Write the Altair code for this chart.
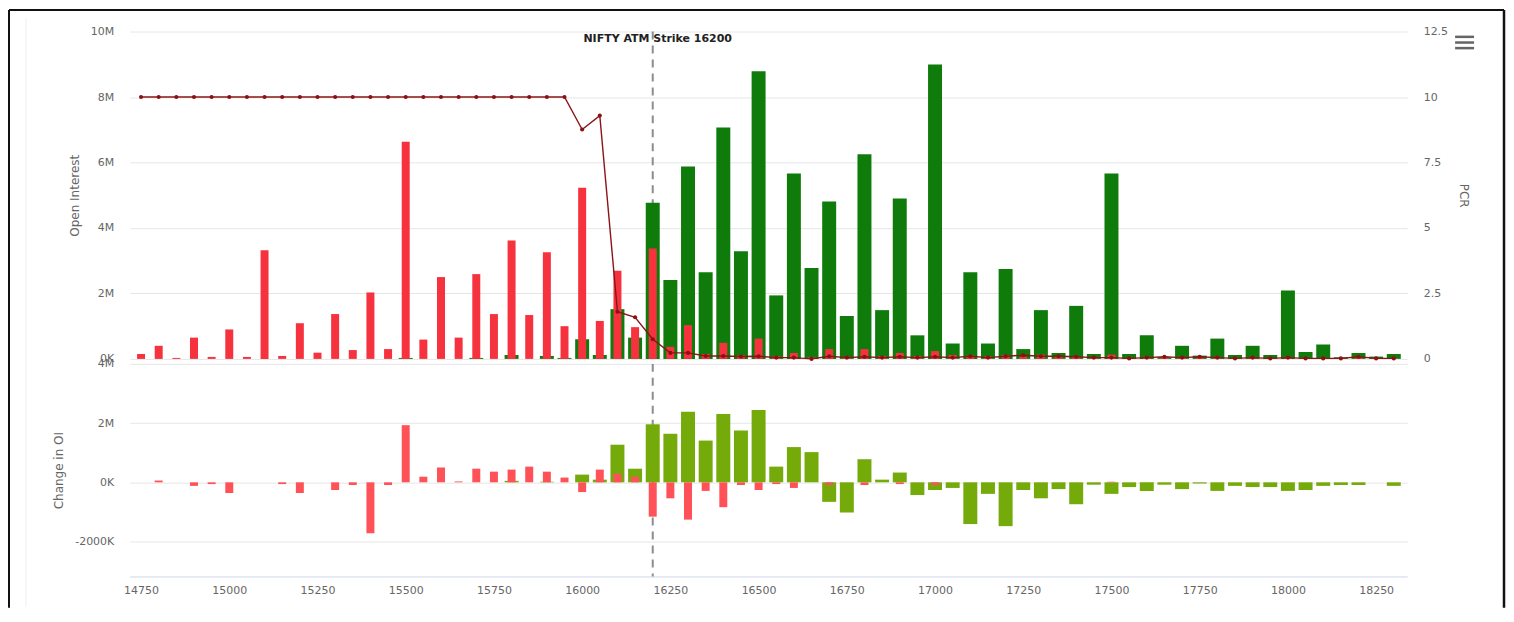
import altair as alt
import pandas as pd

# ---------------- data ----------------
strikes = list(range(14750, 18301, 50))

put_oi_m = [
    0.15, 0.40, 0.03, 0.65, 0.06, 0.90, 0.06, 3.32, 0.09, 1.09,
    0.19, 1.37, 0.27, 2.03, 0.30, 6.63, 0.59, 2.50, 0.65, 2.59,
    1.37, 3.62, 1.34, 3.26, 1.00, 5.23, 1.16, 2.69, 0.97, 3.37,
    0.37, 1.03, 0.15, 0.49, 0.11, 0.62, 0.08, 0.18, 0.05, 0.30,
    0.06, 0.30, 0.09, 0.18, 0.09, 0.24, 0.12, 0.10, 0.08, 0.12,
    0.06, 0.13, 0.05, 0.08, 0.04, 0.13, 0.03, 0.06, 0.03, 0.04,
    0.03, 0.05, 0.02, 0.04, 0.02, 0.05, 0.02, 0.03, 0.02, 0.03,
    0.02, 0.02,
]
call_oi_m = [
    0.00, 0.00, 0.00, 0.00, 0.00, 0.00, 0.00, 0.00, 0.00, 0.00,
    0.00, 0.00, 0.00, 0.00, 0.00, 0.03, 0.00, 0.00, 0.00, 0.03,
    0.00, 0.12, 0.00, 0.09, 0.03, 0.60, 0.12, 1.52, 0.65, 4.77,
    2.41, 5.88, 2.65, 7.07, 3.29, 8.79, 1.94, 5.66, 2.78, 4.81,
    1.31, 6.25, 1.49, 4.90, 0.72, 8.99, 0.47, 2.65, 0.47, 2.75,
    0.30, 1.49, 0.18, 1.62, 0.15, 5.66, 0.15, 0.72, 0.05, 0.40,
    0.10, 0.62, 0.12, 0.40, 0.12, 2.09, 0.21, 0.44, 0.05, 0.18,
    0.07, 0.15,
]
pcr = [
    10.0, 10.0, 10.0, 10.0, 10.0, 10.0, 10.0, 10.0, 10.0, 10.0,
    10.0, 10.0, 10.0, 10.0, 10.0, 10.0, 10.0, 10.0, 10.0, 10.0,
    10.0, 10.0, 10.0, 10.0, 10.0, 8.76, 9.29, 1.80, 1.59, 0.75,
    0.23, 0.23, 0.11, 0.11, 0.09, 0.10, 0.05, 0.05, 0.00, 0.10,
    0.05, 0.08, 0.05, 0.08, 0.05, 0.08, 0.05, 0.10, 0.05, 0.10,
    0.14, 0.10, 0.10, 0.08, 0.05, 0.05, 0.02, 0.05, 0.08, 0.05,
    0.08, 0.05, 0.02, 0.05, 0.02, 0.05, 0.02, 0.02, 0.02, 0.08,
    0.02, 0.02,
]
put_chg_m = [
    0.00, 0.06, 0.00, -0.12, -0.06, -0.36, 0.00, 0.00, -0.06, -0.36,
    0.00, -0.26, -0.09, -1.72, -0.09, 1.93, 0.19, 0.50, 0.03, 0.46,
    0.36, 0.43, 0.53, 0.36, 0.16, -0.33, 0.43, 0.29, 0.19, -1.16,
    -0.54, -1.26, -0.29, -0.84, -0.09, -0.26, -0.06, -0.19, 0.00, -0.09,
    0.00, -0.09, 0.00, -0.06, 0.00, -0.09, 0.00, 0.00, 0.00, 0.00,
    0.00, 0.00, 0.00, 0.00, 0.00, 0.02, 0.00, 0.00, 0.00, 0.00,
    0.00, 0.00, 0.00, 0.00, 0.00, 0.00, 0.00, 0.00, 0.00, 0.00,
    0.00, 0.00,
]
call_chg_m = [
    0.00, 0.00, 0.00, 0.00, 0.00, 0.00, 0.00, 0.00, 0.00, 0.00,
    0.00, 0.00, 0.00, 0.00, 0.00, 0.00, 0.00, 0.00, 0.00, 0.00,
    0.00, 0.05, 0.00, 0.02, 0.00, 0.26, 0.09, 1.27, 0.46, 1.96,
    1.64, 2.38, 1.41, 2.31, 1.75, 2.44, 0.53, 1.19, 1.02, -0.66,
    -1.02, 0.78, 0.09, 0.33, -0.43, -0.26, -0.19, -1.41, -0.39, -1.48,
    -0.26, -0.54, -0.23, -0.74, -0.08, -0.39, -0.16, -0.29, -0.08, -0.23,
    -0.04, -0.29, -0.12, -0.16, -0.16, -0.29, -0.26, -0.12, -0.09, -0.09,
    0.00, -0.12,
]

ATM_STRIKE = 16200
ATM_LABEL = "NIFTY ATM Strike 16200"
x_tick_values = list(range(14750, 18251, 250))
oi_ticks = [0, 2e6, 4e6, 6e6, 8e6, 10e6]
pcr_ticks = [0, 2.5, 5, 7.5, 10, 12.5]
chg_ticks = [-2e6, 0, 2e6, 4e6]

# ---------------- tables ----------------
oi_df = pd.DataFrame({
    "strike": strikes * 2,
    "series": ["call"] * len(strikes) + ["put"] * len(strikes),
    "value": [v * 1e6 for v in call_oi_m] + [v * 1e6 for v in put_oi_m],
})
chg_df = pd.DataFrame({
    "strike": strikes * 2,
    "series": ["call"] * len(strikes) + ["put"] * len(strikes),
    "value": [v * 1e6 for v in call_chg_m] + [v * 1e6 for v in put_chg_m],
})
pcr_df = pd.DataFrame({"strike": strikes, "pcr": pcr})
atm_df = pd.DataFrame({"strike": [ATM_STRIKE], "label": [ATM_LABEL]})
one = pd.DataFrame({"a": [0]})

FONT = "DejaVu Sans"
W, H_TOP, H_BOT = 1280, 328, 213

x_scale = alt.Scale(domain=[14718, 18338], nice=False, zero=False, padding=0)

# ---------------- top panel ----------------
y_oi = alt.Y(
    "value:Q",
    scale=alt.Scale(domain=[0, 1e7], nice=False),
    axis=alt.Axis(
        values=oi_ticks,
        labelExpr="datum.value == 0 ? '0K' : (datum.value / 1000000) + 'M'",
        title="Open Interest",
        labelPadding=16,
        titlePadding=9,
        tickSize=0,
    ),
)

atm_rule_top = alt.Chart(atm_df).mark_rule(
    color="#8c8c8c", strokeWidth=2, strokeDash=[8, 6]
).encode(x=alt.X("strike:Q", scale=x_scale, axis=None))

call_bars = alt.Chart(oi_df).transform_filter(alt.datum.series == "call").mark_bar(
    size=14, color="#0f7b0b"
).encode(x=alt.X("strike:Q", scale=x_scale, axis=None), y=y_oi)

put_bars = alt.Chart(oi_df).transform_filter(alt.datum.series == "put").mark_bar(
    size=8, color="#f7323f"
).encode(x=alt.X("strike:Q", scale=x_scale, axis=None), y=y_oi)

pcr_line = alt.Chart(pcr_df).mark_line(
    color="#8b1418", strokeWidth=1.4,
    point=alt.OverlayMarkDef(size=17, color="#8b1014", filled=True),
).encode(
    x=alt.X("strike:Q", scale=x_scale, axis=None),
    y=alt.Y(
        "pcr:Q",
        scale=alt.Scale(domain=[0, 12.5], nice=False),
        axis=alt.Axis(
            orient="right",
            values=pcr_ticks,
            labelExpr="datum.value + ''",
            title="PCR",
            grid=False,
            labelPadding=16,
            titlePadding=9,
            tickSize=0,
        ),
    ),
)

atm_text = alt.Chart(atm_df).mark_text(
    font=FONT, fontSize=11, fontWeight="bold", color="#222222",
    dx=5, baseline="middle", align="center",
).encode(
    x=alt.X("strike:Q", scale=x_scale, axis=None),
    y=alt.value(7),
    text="label:N",
)

def deco_rule(x1, x2, y1, y2, color, width):
    return alt.Chart(one).mark_rule(color=color, strokeWidth=width).encode(
        x=alt.value(x1), x2=alt.value(x2), y=alt.value(y1), y2=alt.value(y2)
    )

frame = [
    deco_rule(-121, 1377, -21.7, -21.7, "#111111", 2),   # top border
    deco_rule(-121, -121, -21.7, 577.3, "#111111", 2),   # left border
    deco_rule(1377, 1377, -21.7, 577.3, "#111111", 2.5), # right border
    deco_rule(-104, -104, -13.7, 576.3, "#efefef", 1),   # faint inner line
]
menu_icon = [
    deco_rule(1328, 1347, 5.3, 5.3, "#666666", 2.5),
    deco_rule(1328, 1347, 11.0, 11.0, "#666666", 2.5),
    deco_rule(1328, 1347, 16.6, 16.6, "#666666", 2.5),
]

oi_layers = alt.layer(atm_rule_top, call_bars, put_bars, *frame, *menu_icon)
top = alt.layer(oi_layers, pcr_line, atm_text).resolve_scale(
    y="independent"
).properties(width=W, height=H_TOP)

# ---------------- bottom panel ----------------
x_bot = alt.X(
    "strike:Q",
    scale=x_scale,
    axis=alt.Axis(
        values=x_tick_values,
        format="d",
        title=None,
        domain=True,
        domainColor="#ccd6eb",
        domainWidth=1,
        grid=False,
        labelPadding=8,
        tickSize=0,
    ),
)
y_chg = alt.Y(
    "value:Q",
    scale=alt.Scale(domain=[-3.18e6, 4e6], nice=False),
    axis=alt.Axis(
        values=chg_ticks,
        labelExpr="datum.value == 0 ? '0K' : (datum.value < 0 ? (datum.value / 1000) + 'K' : (datum.value / 1000000) + 'M')",
        title="Change in OI",
        labelPadding=16,
        titlePadding=9,
        tickSize=0,
    ),
)

atm_rule_bot = alt.Chart(atm_df).mark_rule(
    color="#8c8c8c", strokeWidth=2, strokeDash=[8, 6]
).encode(x=x_bot)

call_chg = alt.Chart(chg_df).transform_filter(alt.datum.series == "call").mark_bar(
    size=14, color="#74ab0b"
).encode(x=x_bot, y=y_chg)

put_chg = alt.Chart(chg_df).transform_filter(alt.datum.series == "put").mark_bar(
    size=8, color="#ff5258"
).encode(x=x_bot, y=y_chg)

bottom = alt.layer(atm_rule_bot, call_chg, put_chg).properties(width=W, height=H_BOT)

chart = alt.vconcat(top, bottom, spacing=5, bounds="flush").properties(
    padding=0
).configure_view(stroke=None).configure_axis(
    labelFont=FONT,
    labelFontSize=11,
    labelColor="#666666",
    titleFont=FONT,
    titleFontSize=12,
    titleColor="#666666",
    titleFontWeight="normal",
    gridColor="#e6e6e6",
    domain=False,
    ticks=False,
)

chart.save("out.html", embed_options={"renderer": "svg", "actions": False})
